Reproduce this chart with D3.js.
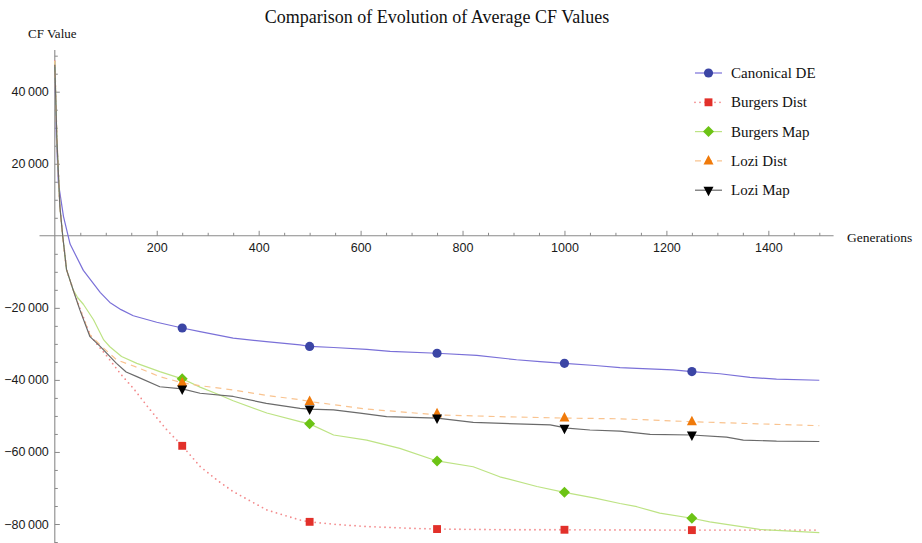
<!DOCTYPE html>
<html>
<head>
<meta charset="utf-8">
<script src="https://cdn.jsdelivr.net/npm/d3@7"></script>
<style>
  body { margin: 0; background: #fff; }
  svg { display: block; }
</style>
</head>
<body>
<div id="chart"></div>
<script>
// values: [generation, average CF value]
var markGens = [250, 500, 750, 1000, 1250];
var xMajor = [200, 400, 600, 800, 1000, 1200, 1400];
var yMajor = [-80000, -60000, -40000, -20000, 20000, 40000];

var canonicalDE = [[0,48500],[3,28000],[7,14700],[17,5400],[30,-2300],[56,-9600],[89,-15700],[108,-18500],[130,-20500],[154,-22200],[200,-24000],[250,-25600],[285,-26600],[350,-28400],[415,-29400],[481,-30300],[500,-30700],[547,-31000],[612,-31500],[658,-32100],[750,-32600],[828,-33200],[906,-34400],[952,-34900],[1000,-35400],[1060,-36000],[1109,-36600],[1142,-36800],[1213,-37200],[1250,-37700],[1305,-38300],[1364,-39300],[1416,-39800],[1500,-40100]];
var canonicalDEMarks = [-25600, -30700, -32600, -35400, -37700];

var burgersDist = [[0,48500],[4,27000],[10,8100],[15.5,0],[23,-9400],[36,-15000],[49,-20000],[69,-27500],[85,-30500],[100,-33000],[130,-38500],[155,-42500],[187,-48300],[220,-53900],[250,-58300],[285,-64000],[320,-68000],[350,-71000],[416,-76100],[481,-78900],[500,-79400],[550,-80100],[612,-80700],[700,-81200],[750,-81400],[900,-81600],[1000,-81600],[1250,-81700],[1500,-81700]];
var burgersDistMarks = [-58300, -79400, -81400, -81600, -81700];

var burgersMap = [[0,48500],[4,27000],[10,8100],[15.5,0],[23,-9400],[36,-15000],[45,-17200],[56,-19000],[76,-23300],[96,-28900],[108,-30800],[131,-33500],[161,-35400],[206,-37700],[250,-39700],[285,-42000],[320,-44000],[350,-45800],[416,-49200],[481,-51600],[500,-52200],[547,-55300],[612,-56700],[677,-59000],[750,-62500],[821,-64100],[873,-66900],[946,-69600],[1000,-71200],[1060,-72800],[1109,-74300],[1142,-75200],[1187,-77000],[1250,-78400],[1285,-79400],[1383,-81500],[1500,-82400]];
var burgersMapMarks = [-39700, -52200, -62500, -71200, -78400];

var loziDist = [[0,48500],[4,27000],[10,8100],[15.5,0],[23,-9400],[36,-15000],[49,-20300],[69,-27500],[89,-30300],[121,-34400],[161,-36500],[206,-39100],[250,-40800],[285,-41600],[350,-42800],[415,-44300],[481,-45500],[500,-46000],[612,-48100],[750,-49700],[873,-50200],[1000,-50600],[1109,-50800],[1250,-51600],[1380,-52200],[1500,-52700]];
var loziDistMarks = [-40800, -46000, -49400, -50600, -51600];

var loziMap = [[0,47500],[4,27000],[10,8100],[15.5,0],[23,-9400],[36,-15000],[49,-20500],[69,-28000],[89,-30700],[121,-35400],[140,-37800],[161,-39100],[206,-41900],[250,-42500],[285,-43700],[350,-44600],[415,-46500],[481,-47900],[500,-48100],[547,-48300],[599,-49200],[651,-50200],[750,-50600],[821,-51800],[972,-52500],[1005,-53400],[1050,-53900],[1109,-54200],[1168,-55100],[1250,-55300],[1318,-55900],[1351,-56700],[1416,-57000],[1500,-57100]];
var loziMapMarks = [-42500, -48100, -50600, -53400, -55300];

var seriesNames = ["Canonical DE", "Burgers Dist", "Burgers Map", "Lozi Dist", "Lozi Map"];

var width = 922, height = 543;

var svg = d3.select('#chart').append('svg')
    .attr('width', width)
    .attr('height', height);

var xScale = d3.scaleLinear().domain([0, 1500]).range([54.8, 819.3]);
var yScale = d3.scaleLinear().domain([-80000, 40000]).range([524, 91.7]);

var x0 = xScale(0), y0 = yScale(0);

// thin-space grouping (only 5+ digits) like the original
var fmt = function(d) {
    var s = String(Math.abs(d));
    if (s.length > 4) s = s.slice(0, s.length - 3) + '\u2009' + s.slice(s.length - 3);
    return (d < 0 ? '\u2212' : '') + s;
};

var axisColor = '#8a8a8a';

// axis lines
svg.append('line')
    .attr('x1', xScale(-30)).attr('x2', xScale(1528))
    .attr('y1', y0).attr('y2', y0)
    .attr('stroke', axisColor).attr('stroke-width', 1.1);
svg.append('line')
    .attr('x1', x0).attr('x2', x0)
    .attr('y1', yScale(51600)).attr('y2', height)
    .attr('stroke', axisColor).attr('stroke-width', 1.1);

// minor ticks
var xMinor = d3.range(50, 1501, 50).filter(function(d) { return d % 200 !== 0; });
var yMinor = d3.range(-85000, 50001, 5000).filter(function(d) { return d % 20000 !== 0; });

var gxMinor = svg.append('g')
    .attr('transform', 'translate(0,' + y0 + ')')
    .call(d3.axisBottom(xScale).tickValues(xMinor).tickFormat('').tickSizeInner(-3).tickSizeOuter(0));
var gyMinor = svg.append('g')
    .attr('transform', 'translate(' + x0 + ',0)')
    .call(d3.axisLeft(yScale).tickValues(yMinor).tickFormat('').tickSizeInner(-3).tickSizeOuter(0));

// major ticks
var gx = svg.append('g')
    .attr('transform', 'translate(0,' + y0 + ')')
    .call(d3.axisBottom(xScale).tickValues(xMajor).tickFormat(fmt).tickSizeInner(-5).tickSizeOuter(0).tickPadding(7));
var gy = svg.append('g')
    .attr('transform', 'translate(' + x0 + ',0)')
    .call(d3.axisLeft(yScale).tickValues(yMajor).tickFormat(fmt).tickSizeInner(-5).tickSizeOuter(0).tickPadding(6));

[gxMinor, gyMinor, gx, gy].forEach(function(g) {
    g.select('.domain').remove();
    g.selectAll('.tick line').attr('stroke', axisColor);
    g.selectAll('.tick text')
        .attr('fill', '#1a1a1a')
        .style('font-family', '"Liberation Sans", Arial, sans-serif')
        .style('font-size', '12.5px');
});

// titles
svg.append('text')
    .attr('x', 437).attr('y', 23)
    .attr('text-anchor', 'middle')
    .style('font-family', '"Liberation Serif", "Times New Roman", serif')
    .style('font-size', '18px')
    .attr('fill', '#111')
    .text('Comparison of Evolution of Average CF Values');
svg.append('text')
    .attr('x', 28).attr('y', 38)
    .style('font-family', '"Liberation Serif", "Times New Roman", serif')
    .style('font-size', '13px')
    .attr('fill', '#111')
    .text('CF Value');
svg.append('text')
    .attr('x', 847).attr('y', 242)
    .style('font-family', '"Liberation Serif", "Times New Roman", serif')
    .style('font-size', '13.5px')
    .attr('fill', '#111')
    .text('Generations');

// series styles
var styles = [
    { data: canonicalDE, marks: canonicalDEMarks, line: '#7a70d8', dash: null, mark: '#3b45a5', shape: 'circle' },
    { data: burgersDist, marks: burgersDistMarks, line: '#f38a8c', dash: '0,5', mark: '#e2302a', shape: 'square' },
    { data: burgersMap, marks: burgersMapMarks, line: '#bde384', dash: null, mark: '#6cc315', shape: 'diamond' },
    { data: loziDist, marks: loziDistMarks, line: '#f9c38f', dash: '6,5', mark: '#f07a0a', shape: 'triangle' },
    { data: loziMap, marks: loziMapMarks, line: '#6a6a6a', dash: null, mark: '#000', shape: 'triangleDown' }
];

var symbolPath = function(shape) {
    if (shape === 'circle') return d3.symbol(d3.symbolCircle, 66)();
    if (shape === 'square') return d3.symbol(d3.symbolSquare, 62)();
    if (shape === 'diamond') return 'M0,-5.5L5.5,0L0,5.5L-5.5,0Z';
    if (shape === 'triangle') return 'M0,-6L5,3.5L-5,3.5Z';
    return 'M0,6L5,-3.5L-5,-3.5Z';
};

var linePath = d3.line()
    .x(function(d) { return xScale(d[0]); })
    .y(function(d) { return yScale(d[1]); });

var plot = svg.append('g');

styles.forEach(function(s) {
    var p = plot.append('path')
        .attr('d', linePath(s.data))
        .attr('fill', 'none')
        .attr('stroke', s.line)
        .attr('stroke-width', s.dash === '0,5' ? 1.8 : 1.2)
        .attr('stroke-linejoin', 'round');
    if (s.dash) {
        p.attr('stroke-dasharray', s.dash);
        if (s.dash === '0,5') p.attr('stroke-linecap', 'round');
    }
    plot.append('g').selectAll('path')
        .data(markGens.map(function(g, i) { return [g, s.marks[i]]; }))
        .enter()
        .append('path')
        .attr('d', symbolPath(s.shape))
        .attr('transform', function(d) {
            return 'translate(' + xScale(d[0]) + ',' + yScale(d[1]) + ')';
        })
        .attr('fill', s.mark);
});

// legend
var legend = svg.append('g').attr('transform', 'translate(695,73)');
var row = legend.selectAll('g')
    .data(styles)
    .enter()
    .append('g')
    .attr('transform', function(d, i) { return 'translate(0,' + (i * 29.3) + ')'; });

row.append('line')
    .attr('x1', 0).attr('x2', 27)
    .attr('stroke', function(d) { return d.line; })
    .attr('stroke-width', function(d) { return d.dash === '0,5' ? 1.8 : 1.2; })
    .attr('stroke-dasharray', function(d) { return d.dash; })
    .attr('stroke-linecap', function(d) { return d.dash === '0,5' ? 'round' : 'butt'; });
row.append('path')
    .attr('d', function(d) { return symbolPath(d.shape); })
    .attr('transform', 'translate(13.5,0)')
    .attr('fill', function(d) { return d.mark; });
row.append('text')
    .attr('x', 36).attr('y', 5)
    .style('font-family', '"Liberation Serif", "Times New Roman", serif')
    .style('font-size', '15px')
    .attr('fill', '#111')
    .text(function(d, i) { return seriesNames[i]; });
</script>
</body>
</html>
